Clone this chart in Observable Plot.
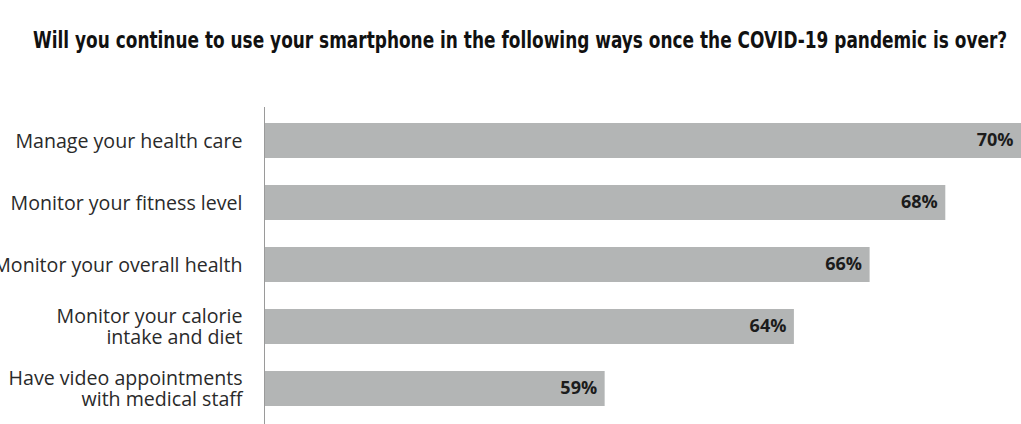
<!DOCTYPE html>
<html>
<head>
<meta charset="utf-8">
<script src="https://cdn.jsdelivr.net/npm/d3@7"></script>
<script src="https://cdn.jsdelivr.net/npm/@observablehq/plot@0.6"></script>
<style>
  html, body { margin: 0; padding: 0; background: #fff; }
  #title { position: relative; height: 80px; }
  #title span {
    position: absolute; left: 33px; top: 25px; white-space: nowrap;
    font-family: "DejaVu Sans", sans-serif; font-weight: bold; font-size: 22.5px; line-height: 30px;
    color: #111; transform-origin: 0 50%; display: inline-block;
  }
  svg { display: block; }
</style>
</head>
<body>
<div id="title"><span>Will you continue to use your smartphone in the following ways once the COVID-19 pandemic is over?</span></div>
<div id="chart"></div>
<script>
const categories = [
  "Manage your health care",
  "Monitor your fitness level",
  "Monitor your overall health",
  "Monitor your calorie\nintake and diet",
  "Have video appointments\nwith medical staff"
];
const values = [70, 68, 66, 64, 59];
const valueLabels = ["70%", "68%", "66%", "64%", "59%"];
const xDomain = [50, 70];

const data = categories.map((c, i) => ({category: c, value: values[i], label: valueLabels[i]}));

const span = document.querySelector("#title span");
span.style.transform = `scaleX(${974 / span.offsetWidth})`;

const chart = Plot.plot({
  width: 1021,
  height: 344,
  marginLeft: 264,
  marginRight: 0,
  marginTop: 27,
  marginBottom: 0,
  style: {fontFamily: "'Open Sans', sans-serif", background: "#fff"},
  x: {domain: xDomain, axis: null},
  y: {domain: categories, paddingInner: 0.44, paddingOuter: 0.22, insetTop: 1, insetBottom: 3, label: null},
  marks: [
    Plot.barX(data, {y: "category", x: "value", fill: "#b3b5b5", clip: true}),
    Plot.frame({anchor: "left", stroke: "#9a9a9a", strokeOpacity: 1}),
    Plot.axisY({tickSize: 0, tickPadding: 22, fontSize: 19.6, fill: "#2a2a2a", label: null, lineHeight: 1.05}),
    Plot.text(data, {y: "category", x: "value", text: "label", textAnchor: "end", dx: -8, dy: -1,
      fontWeight: "bold", fontSize: 18, fill: "#1c1c1c"})
  ]
});
document.getElementById("chart").appendChild(chart);
</script>
</body>
</html>
